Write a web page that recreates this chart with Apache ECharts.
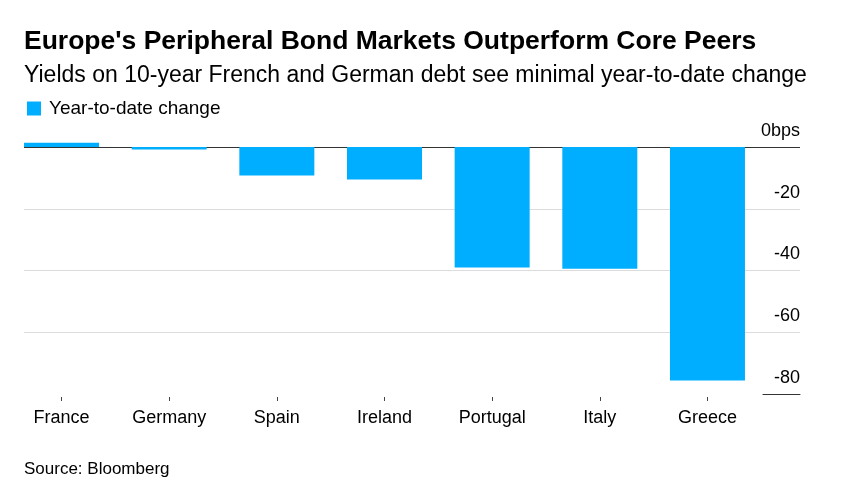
<!DOCTYPE html>
<html>
<head>
<meta charset="utf-8">
<script src="https://cdn.jsdelivr.net/npm/echarts@6/dist/echarts.min.js"></script>
<style>
  html, body { margin: 0; padding: 0; background: #fff; }
  #chart { width: 841px; height: 487px; }
</style>
</head>
<body>
<div id="chart"></div>
<script>
// values, in bps
const countries = ['France', 'Germany', 'Spain', 'Ireland', 'Portugal', 'Italy', 'Greece'];
const ytdChange = [1.4, -0.8, -9.2, -10.5, -39.0, -39.4, -75.6];
const yTicks = [-80, -60, -40, -20, 0];

const font = 'Liberation Sans, Arial, sans-serif';
const yMin = yTicks[0];
const yMax = yTicks[yTicks.length - 1];
const plotTop = 147;
const plotBottom = 93;

var dom = document.getElementById('chart');
var myChart = echarts.init(dom, null, { renderer: 'canvas' });

var option = {
  animation: false,
  backgroundColor: '#fff',
  title: [
    {
      text: "Europe's Peripheral Bond Markets Outperform Core Peers",
      left: 19, top: 21,
      textStyle: { fontFamily: font, fontSize: 26.5, fontWeight: 'bold', color: '#000', lineHeight: 32 }
    },
    {
      text: 'Yields on 10-year French and German debt see minimal year-to-date change',
      left: 19, top: 57,
      textStyle: { fontFamily: font, fontSize: 23, fontWeight: 'normal', color: '#000', lineHeight: 28 }
    },
    {
      text: 'Source: Bloomberg',
      left: 19, top: 454,
      textStyle: { fontFamily: font, fontSize: 17, fontWeight: 'normal', color: '#000', lineHeight: 20 }
    }
  ],
  legend: {
    left: 27, top: 99,
    padding: 0,
    icon: 'rect',
    itemWidth: 14, itemHeight: 14,
    itemGap: 6,
    textStyle: { fontFamily: font, fontSize: 19, color: '#000', padding: [0, 0, 0, 3] },
    data: ['Year-to-date change']
  },
  grid: [
    // bars
    { left: 7.7, right: 79.7, top: plotTop, bottom: plotBottom },
    // value axis and grid lines
    { left: 24, right: 41, top: plotTop, bottom: plotBottom },
    // short baseline under the labels
    { left: 763, right: 41, top: plotTop, bottom: plotBottom }
  ],
  xAxis: [
    {
      gridIndex: 0,
      type: 'category',
      data: countries,
      offset: 3,
      axisLine: { show: false, onZero: false },
      axisTick: { show: true, alignWithLabel: true, length: 4, lineStyle: { color: '#444' } },
      axisLabel: { fontFamily: font, fontSize: 18, color: '#000', margin: 12 }
    },
    { gridIndex: 1, type: 'value', show: false },
    {
      gridIndex: 2, type: 'value',
      axisLine: { show: true, onZero: false, lineStyle: { color: '#333', width: 1 } },
      axisTick: { show: false },
      axisLabel: { show: false },
      splitLine: { show: false }
    }
  ],
  yAxis: [
    { gridIndex: 0, type: 'value', min: yMin, max: yMax, show: false },
    {
      gridIndex: 1,
      type: 'value',
      position: 'right',
      min: yMin, max: yMax, interval: 20,
      axisLine: { show: false },
      axisTick: { show: false },
      axisLabel: {
        inside: true,
        fontFamily: font, fontSize: 18, color: '#000',
        verticalAlign: 'bottom',
        margin: 0,
        padding: [0, 0, 7, 0],
        formatter: function (v) { return v === 0 ? '0bps' : String(v); }
      },
      splitLine: {
        show: true,
        lineStyle: { color: ['transparent', '#dcdcdc', '#dcdcdc', '#dcdcdc', '#333'], width: 1 }
      }
    },
    { gridIndex: 2, type: 'value', min: yMin, max: yMax, show: false }
  ],
  series: [
    {
      name: 'Year-to-date change',
      type: 'bar',
      xAxisIndex: 0, yAxisIndex: 0,
      data: ytdChange,
      barWidth: 75,
      clip: false,
      z: 3,
      itemStyle: { color: '#00aeff' }
    }
  ]
};

myChart.setOption(option);
</script>
</body>
</html>
